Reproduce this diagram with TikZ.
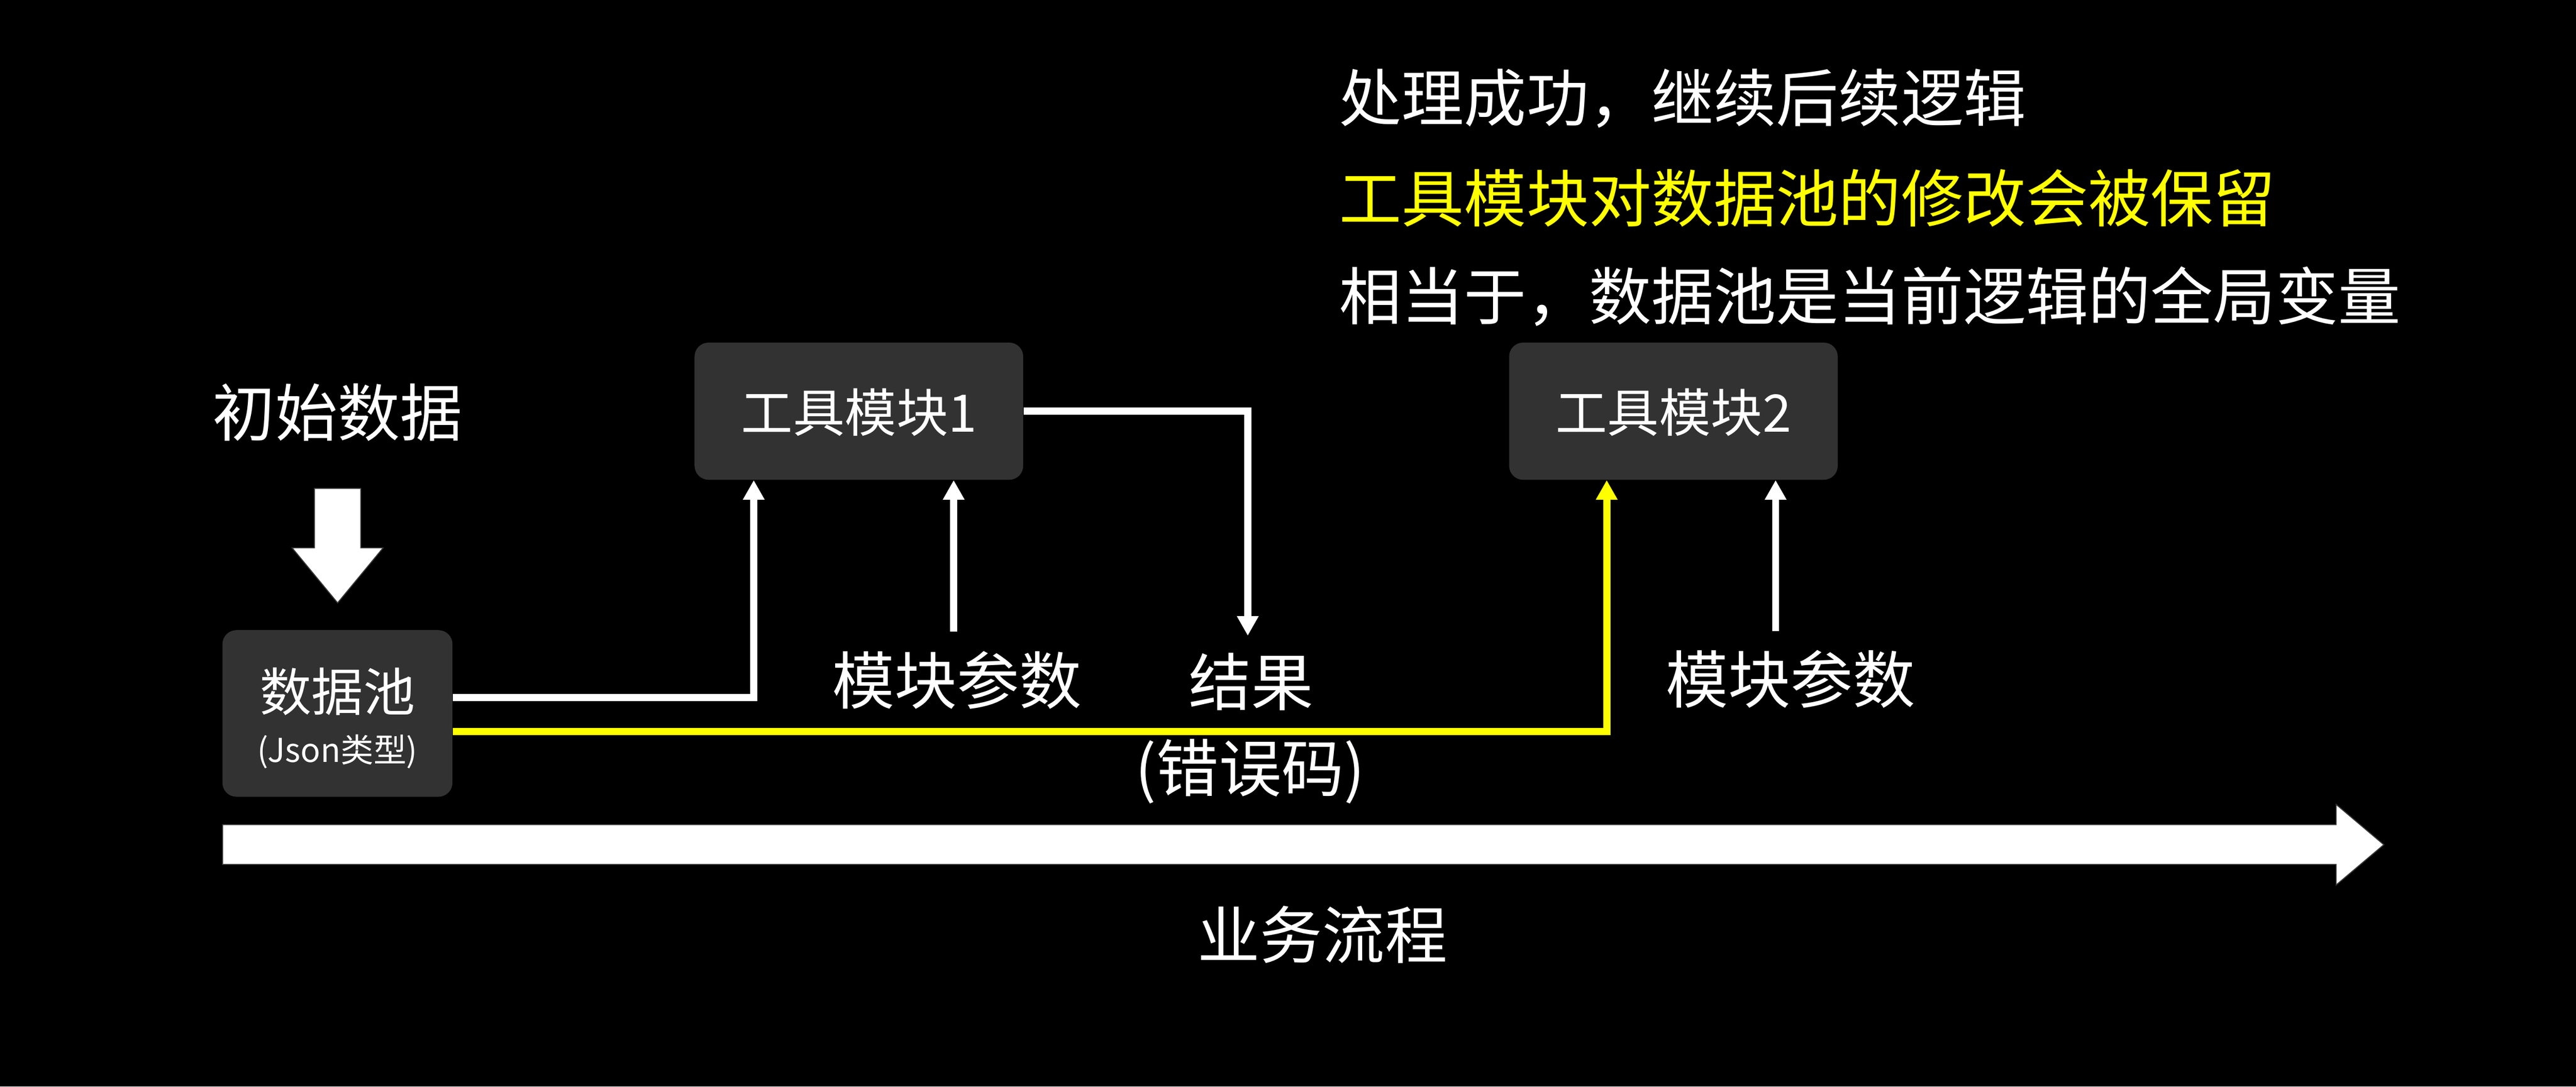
\documentclass[tikz,border=0pt]{standalone}
\usepackage{fontspec}
\setmainfont{Noto Sans CJK SC}
\usetikzlibrary{arrows.meta,calc}
\definecolor{boxgray}{HTML}{323232}
\definecolor{edgegray}{HTML}{3A3A3A}
\definecolor{hl}{HTML}{FFFF00}
\begin{document}
\begin{tikzpicture}[x=1pt,y=-1pt,
  box/.style={fill=boxgray,rounded corners=8.5pt,inner sep=0pt,draw=none},
  lbl/.style={text=white,inner sep=0pt,font=\fontsize{38}{44}\selectfont},
  boxlbl/.style={text=white,inner sep=0pt,font=\fontsize{31.5}{36}\selectfont},
  smalllbl/.style={text=white,inner sep=0pt,font=\fontsize{20}{24}\selectfont},
  note/.style={inner sep=0pt,anchor=west,font=\fontsize{38}{44}\selectfont},
  conn/.style={draw=white,line width=4.3pt,-{Triangle[length=12pt,width=12.5pt]}},
  connY/.style={draw=hl,line width=4.3pt,-{Triangle[length=12pt,width=12.5pt]}},
  blockarrow/.style={fill=white,draw=edgegray,line width=0.6pt,line join=miter}
]
\fill[black] (0,0) rectangle (1568,661.5);
\useasboundingbox (0,0) rectangle (1568,661.5);

% top notes
\node[note,text=white] (n1) at (815,60) {处理成功，继续后续逻辑};
\node[note,text=hl] (n2) at (815,120.5) {工具模块对数据池的修改会被保留};
\node[note,text=white] (n3) at (815,180.5) {相当于，数据池是当前逻辑的全局变量};

% initial data
\node[lbl] (init) at (205.5,251) {初始数据};
\draw[blockarrow] (191.4,297.3) -- (219.6,297.3) -- (219.6,333.5) -- (233.2,333.5)
  -- (205.5,367) -- (177.8,333.5) -- (191.4,333.5) -- cycle;

% boxes
\node[box,minimum width=140pt,minimum height=101.4pt] (pool) at (205.4,434.3) {};
\node[boxlbl] (poolt) at (205.4,421) {数据池};
\node[smalllbl] (poolj) at (205.4,457.5) {(Json类型)};

\node[box,minimum width=200pt,minimum height=83.5pt] (tool1) at (522.8,250.3) {};
\node[boxlbl] (tool1t) at (523,251) {工具模块1};

\node[box,minimum width=200pt,minimum height=83.5pt] (tool2) at (1018.6,250.3) {};
\node[boxlbl] (tool2t) at (1018.6,251) {工具模块2};

% labels
\node[lbl] (par1) at (582.5,414) {模块参数};
\node[lbl] (res) at (761.5,415) {结果};
\node[lbl] (err) at (761,469.5) {(错误码)};
\node[lbl] (par2) at (1090,413.5) {模块参数};
\node[lbl] (flow) at (805,569) {业务流程};

\coordinate (par1top) at (580.5,384.4);
\coordinate (par2top) at (1080.8,384.2);
\coordinate (restop) at (759.5,387);

% connectors
\draw[conn] (pool.east |- 0,424.6) -| (tool1.south -| 458.8,0);
\draw[conn] (par1top) -- (tool1.south -| par1top);
\draw[conn] (tool1.east) -| (restop);
\draw[connY] (pool.east |- 0,445.4) -| (tool2.south -| 978,0);
\draw[conn] (par2top) -- (tool2.south -| par2top);

% business flow arrow
\draw[blockarrow] (135.5,502) -- (1422,502) -- (1422,489.7) -- (1451,514.2)
  -- (1422,538.7) -- (1422,526.2) -- (135.5,526.2) -- cycle;
\end{tikzpicture}
\end{document}
